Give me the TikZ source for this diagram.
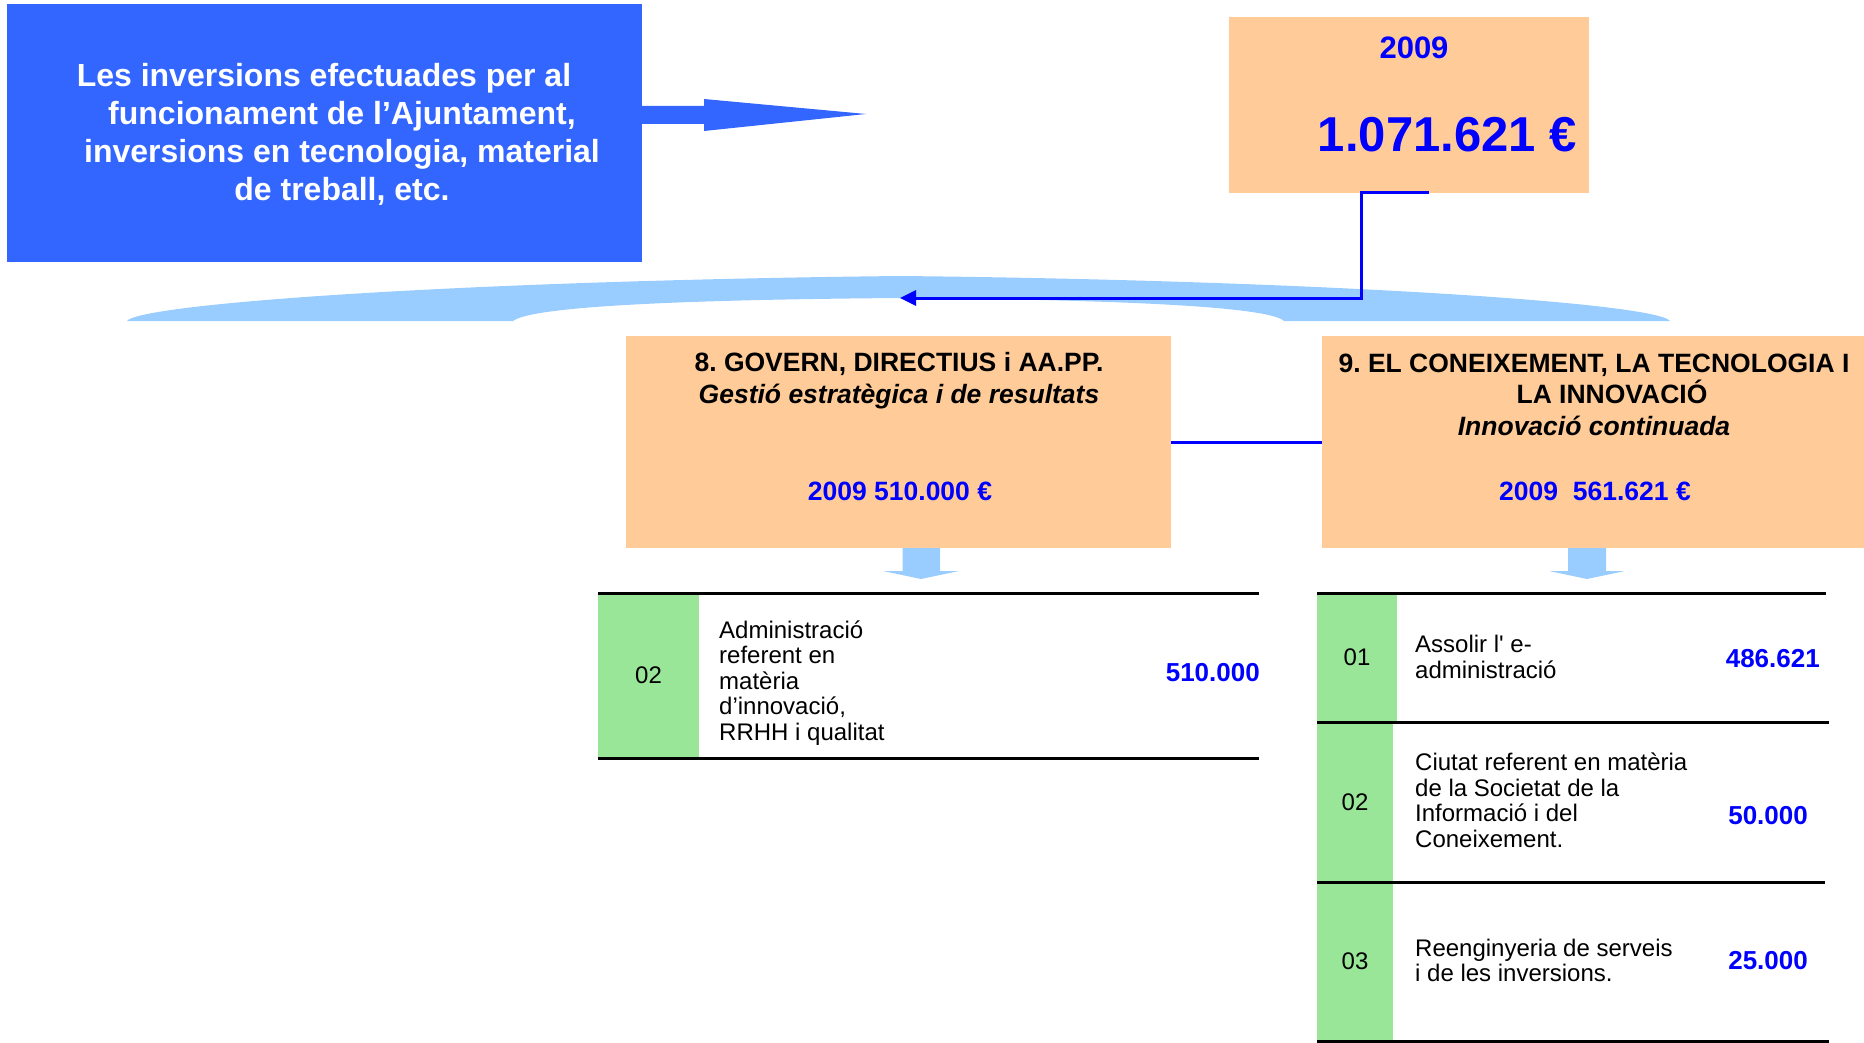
\documentclass[tikz,border=0pt]{standalone}
\usepackage{fontspec}
\setmainfont{Liberation Sans}
\usetikzlibrary{arrows.meta}
\definecolor{boxblue}{RGB}{51,102,255}
\definecolor{bandblue}{RGB}{153,204,255}
\definecolor{peach}{RGB}{255,204,153}
\definecolor{cellgreen}{RGB}{153,230,153}
\definecolor{numblue}{RGB}{0,0,255}
\frenchspacing
\begin{document}
\begin{tikzpicture}[x=1pt,y=-1pt,
  box/.style={inner sep=0pt, outer sep=0pt},
  peachbox/.style={box, fill=peach},
  cell/.style={box, fill=cellgreen, font=\fontsize{24}{25.5}\selectfont},
  desc/.style={inner sep=0pt, anchor=base west, align=left, font=\fontsize{24}{25.5}\selectfont},
  val/.style={inner sep=0pt, anchor=base east, text=numblue, font=\bfseries\fontsize{26}{30}\selectfont},
  head/.style={inner sep=0pt, anchor=base, align=center, font=\frenchspacing\bfseries\fontsize{26.5}{31.5}\selectfont},
  conn/.style={draw=numblue, line width=3pt},
  rulel/.style={line width=3pt, black}
]
\useasboundingbox (0,0) rectangle (1864,1043);

% intro box and its arrow
\node[box, fill=boxblue, minimum width=635pt, minimum height=258pt] (intro) at (324.5,133) {};
\node[inner sep=0pt, anchor=base, align=center, text=white,
      font=\bfseries\fontsize{32}{38.3}\selectfont] (introtext) at (342,201)
  {Les inversions efectuades per al\hspace*{36pt}\\funcionament de l’Ajuntament,\\inversions en tecnologia, material\\de treball, etc.};
\fill[boxblue] (intro.east |- 0,106) -- (704,106) -- (704,99) -- (866,114) -- (704,131) -- (704,124) -- (intro.east |- 0,124) -- cycle;

% curved band
\fill[bandblue] (127,321) .. controls (140,304) and (450,281) .. (900,276)
  .. controls (1300,280) and (1655,302) .. (1670,321) -- (1284,321)
  .. controls (1270,308) and (1150,300) .. (900,298)
  .. controls (650,300) and (530,308) .. (513,321) -- cycle;

% total box
\node[peachbox, minimum width=360pt, minimum height=176pt] (total) at (1409,105) {};
\node[inner sep=0pt, anchor=base, text=numblue, font=\bfseries\fontsize{31}{36}\selectfont] (totyear) at (1414,59) {2009};
\node[inner sep=0pt, anchor=base east, text=numblue, font=\bfseries\fontsize{49}{56}\selectfont] (totval) at (1577,152) {1.071.621 €};

\coordinate (bandtip) at (900,298);
\draw[conn, -{Triangle[length=16pt,width=15pt]}] ([xshift=20pt]total.south) -- ([xshift=-48pt]total.south) |- (bandtip);

% programme boxes
\node[peachbox, minimum width=545pt, minimum height=212pt] (g8) at (898.5,442) {};
\node[peachbox, minimum width=542pt, minimum height=212pt] (g9) at (1593,442) {};
\draw[conn] (g8.east) -- (g9.west);

\node[head] (g8t) at (899,403) {8. GOVERN, DIRECTIUS i AA.PP.\\\textit{Gestió estratègica i de resultats}};
\node[head, text=numblue] (g8v) at (900,500) {2009 510.000 €};
\node[head] (g9t) at (1594,435) {9. EL CONEIXEMENT, LA TECNOLOGIA I\\\hspace*{36pt}LA INNOVACIÓ\\\textit{Innovació continuada}};
\node[head, text=numblue] (g9v) at (1595,500) {2009\ \ 561.621 €};

% small down arrows
\fill[bandblue] (902.5,548) -- (940,548) -- (940,571) -- (959,571) -- (921,579) -- (883,571) -- (902.5,571) -- cycle;
\fill[bandblue] (1568,548) -- (1606,548) -- (1606,571) -- (1625,571) -- (1587,579) -- (1549,571) -- (1568,571) -- cycle;

% table 8
\node[cell, minimum width=101pt, minimum height=165pt] (c8a) at (648.5,675.5) {02};
\node[desc] (d8a) at (719,740) {Administració\\referent en\\matèria\\d’innovació,\\RRHH i qualitat};
\node[val] (v8a) at (1260,681) {510.000};
\draw[rulel] (c8a.north west) -- ++(661,0);
\draw[rulel] (c8a.south west) -- ++(661,0);

% table 9
\node[cell, minimum width=80pt, minimum height=129pt] (c9a) at (1357,657.5) {01};
\node[cell, minimum width=76pt, minimum height=160pt] (c9b) at (1355,802) {02};
\node[cell, minimum width=76pt, minimum height=159pt] (c9c) at (1355,961.5) {03};
\node[desc] (d9a) at (1415,678) {Assolir l\textquotesingle{} e-\\administració};
\node[desc] (d9b) at (1415,847) {Ciutat referent en matèria\\de la Societat de la\\Informació i del\\Coneixement.};
\node[desc] (d9c) at (1415,981.7) {Reenginyeria de serveis\\i de les inversions.};
\node[val] (v9a) at (1820,667) {486.621};
\node[val] (v9b) at (1808,824) {50.000};
\node[val] (v9c) at (1808,969) {25.000};
\draw[rulel] (c9a.north west) -- ++(509,0);
\draw[rulel] (c9a.south west) -- ++(512,0);
\draw[rulel] (c9b.south west) -- ++(508,0);
\draw[rulel] (c9c.south west) -- ++(512,0);
\end{tikzpicture}
\end{document}
